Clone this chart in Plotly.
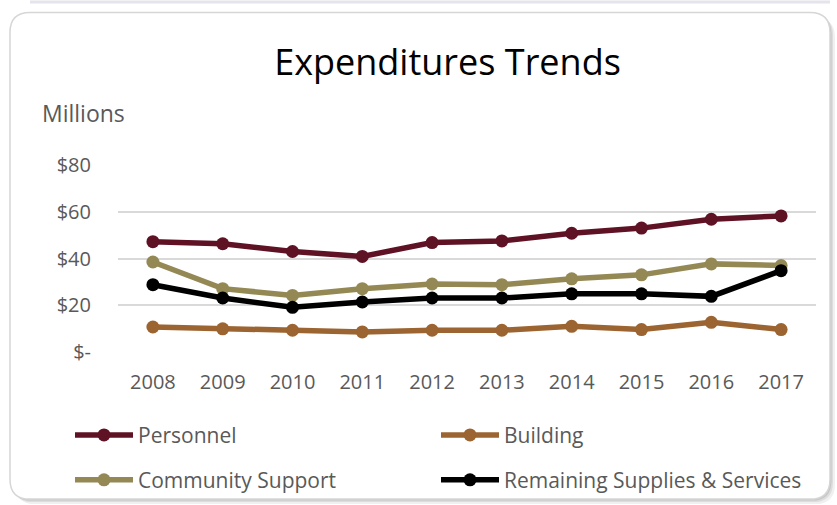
import plotly.graph_objects as go

# Annual expenditures by category, in millions of dollars
years = ["2008", "2009", "2010", "2011", "2012", "2013", "2014", "2015", "2016", "2017"]
personnel = [47.2, 46.3, 43.0, 40.9, 46.8, 47.5, 50.8, 53.0, 56.8, 58.2]
building = [10.7, 9.9, 9.3, 8.6, 9.3, 9.3, 11.0, 9.6, 12.7, 9.6]
community_support = [38.5, 27.1, 24.2, 27.1, 29.1, 28.8, 31.3, 33.0, 37.7, 37.0]
remaining_supplies = [28.8, 23.1, 19.1, 21.4, 23.1, 23.1, 24.9, 24.9, 23.8, 34.8]

series_names = ["Personnel", "Building", "Community Support", "Remaining Supplies & Services"]
series_values = [personnel, building, community_support, remaining_supplies]
series_colors = ["#5E1224", "#9B6430", "#948955", "#000000"]
series_legends = ["legend", "legend", "legend2", "legend2"]

y_tick_vals = [0, 20, 40, 60, 80]
y_tick_text = ["$-", "$20", "$40", "$60", "$80"]

W, H = 837, 505
L, R, T, B = 118, 21, 165, 152.5
PW, PH = W - L - R, H - T - B


def px_x(px):
    return (px - L) / PW


def px_y(py):
    return (H - B - py) / PH


FONT = "Open Sans"
GRAY_TEXT = "#595959"

fig = go.Figure()
for name, vals, color, lg in zip(series_names, series_values, series_colors, series_legends):
    fig.add_trace(go.Scatter(
        x=years, y=vals, name=name, mode="lines+markers",
        line=dict(color=color, width=5.5),
        marker=dict(color=color, size=13),
        legend=lg, cliponaxis=False,
    ))


def rounded_rect(x0, y0, x1, y1, r):
    # path in paper coordinates built from pixel corners
    def P(x, y):
        return f"{px_x(x)},{px_y(y)}"
    return (f"M {P(x0 + r, y0)} L {P(x1 - r, y0)} Q {P(x1, y0)} {P(x1, y0 + r)} "
            f"L {P(x1, y1 - r)} Q {P(x1, y1)} {P(x1 - r, y1)} "
            f"L {P(x0 + r, y1)} Q {P(x0, y1)} {P(x0, y1 - r)} "
            f"L {P(x0, y0 + r)} Q {P(x0, y0)} {P(x0 + r, y0)} Z")


shapes = []
# soft drop shadow of the card
for off, op in [(5, 0.06), (3, 0.08), (1.5, 0.10)]:
    shapes.append(dict(type="path", xref="paper", yref="paper", layer="below",
                       path=rounded_rect(10 + off, 12 + off, 830 + off, 500 + off, 20),
                       fillcolor=f"rgba(0,0,0,{op})", line=dict(width=0)))
# card
shapes.append(dict(type="path", xref="paper", yref="paper", layer="below",
                   path=rounded_rect(10, 12, 830, 500, 20),
                   fillcolor="white", line=dict(color="#D6D6D6", width=1.5)))
# edge of the panel above
shapes.append(dict(type="rect", xref="paper", yref="paper", layer="below",
                   x0=px_x(30), x1=px_x(830), y0=px_y(3), y1=px_y(0),
                   fillcolor="#E4E4EC", line=dict(width=0)))

# two legend rows, each holding two entries side by side
legend_common = dict(orientation="h", xref="paper", yref="paper",
                     xanchor="left", yanchor="middle",
                     entrywidth=293, entrywidthmode="pixels", bgcolor="rgba(0,0,0,0)",
                     font=dict(family=FONT, size=21, color=GRAY_TEXT), itemwidth=58)

fig.update_layout(
    width=W, height=H,
    margin=dict(l=L, r=R, t=T, b=B, pad=0, autoexpand=False),
    paper_bgcolor="white", plot_bgcolor="rgba(0,0,0,0)",
    font=dict(family=FONT, color=GRAY_TEXT, size=20),
    title=dict(text="Expenditures Trends", x=447.5 / W, xanchor="center",
               y=1 - 62 / H, yanchor="middle", xref="container", yref="container",
               font=dict(family=FONT, size=36, color="#000000")),
    shapes=shapes,
    annotations=[dict(text="Millions", x=px_x(40), y=px_y(113), xref="paper", yref="paper",
                      xanchor="left", yanchor="middle", showarrow=False,
                      font=dict(family=FONT, size=23, color=GRAY_TEXT))],
    xaxis=dict(type="category", range=[-0.5, 9.5], showgrid=False, showline=False,
               zeroline=False, ticks="", ticklabelstandoff=16,
               tickfont=dict(family=FONT, size=20, color=GRAY_TEXT)),
    yaxis=dict(range=[0, 80], tickvals=y_tick_vals, ticktext=y_tick_text,
               showgrid=True, gridcolor="#D9D9D9", gridwidth=1.5, zeroline=False,
               showline=False, ticks="", ticklabelstandoff=26,
               tickfont=dict(family=FONT, size=20, color=GRAY_TEXT)),
    legend=dict(legend_common, x=px_x(70), y=px_y(436)),
    legend2=dict(legend_common, x=px_x(70), y=px_y(481)),
)

fig.write_html("out.html")
